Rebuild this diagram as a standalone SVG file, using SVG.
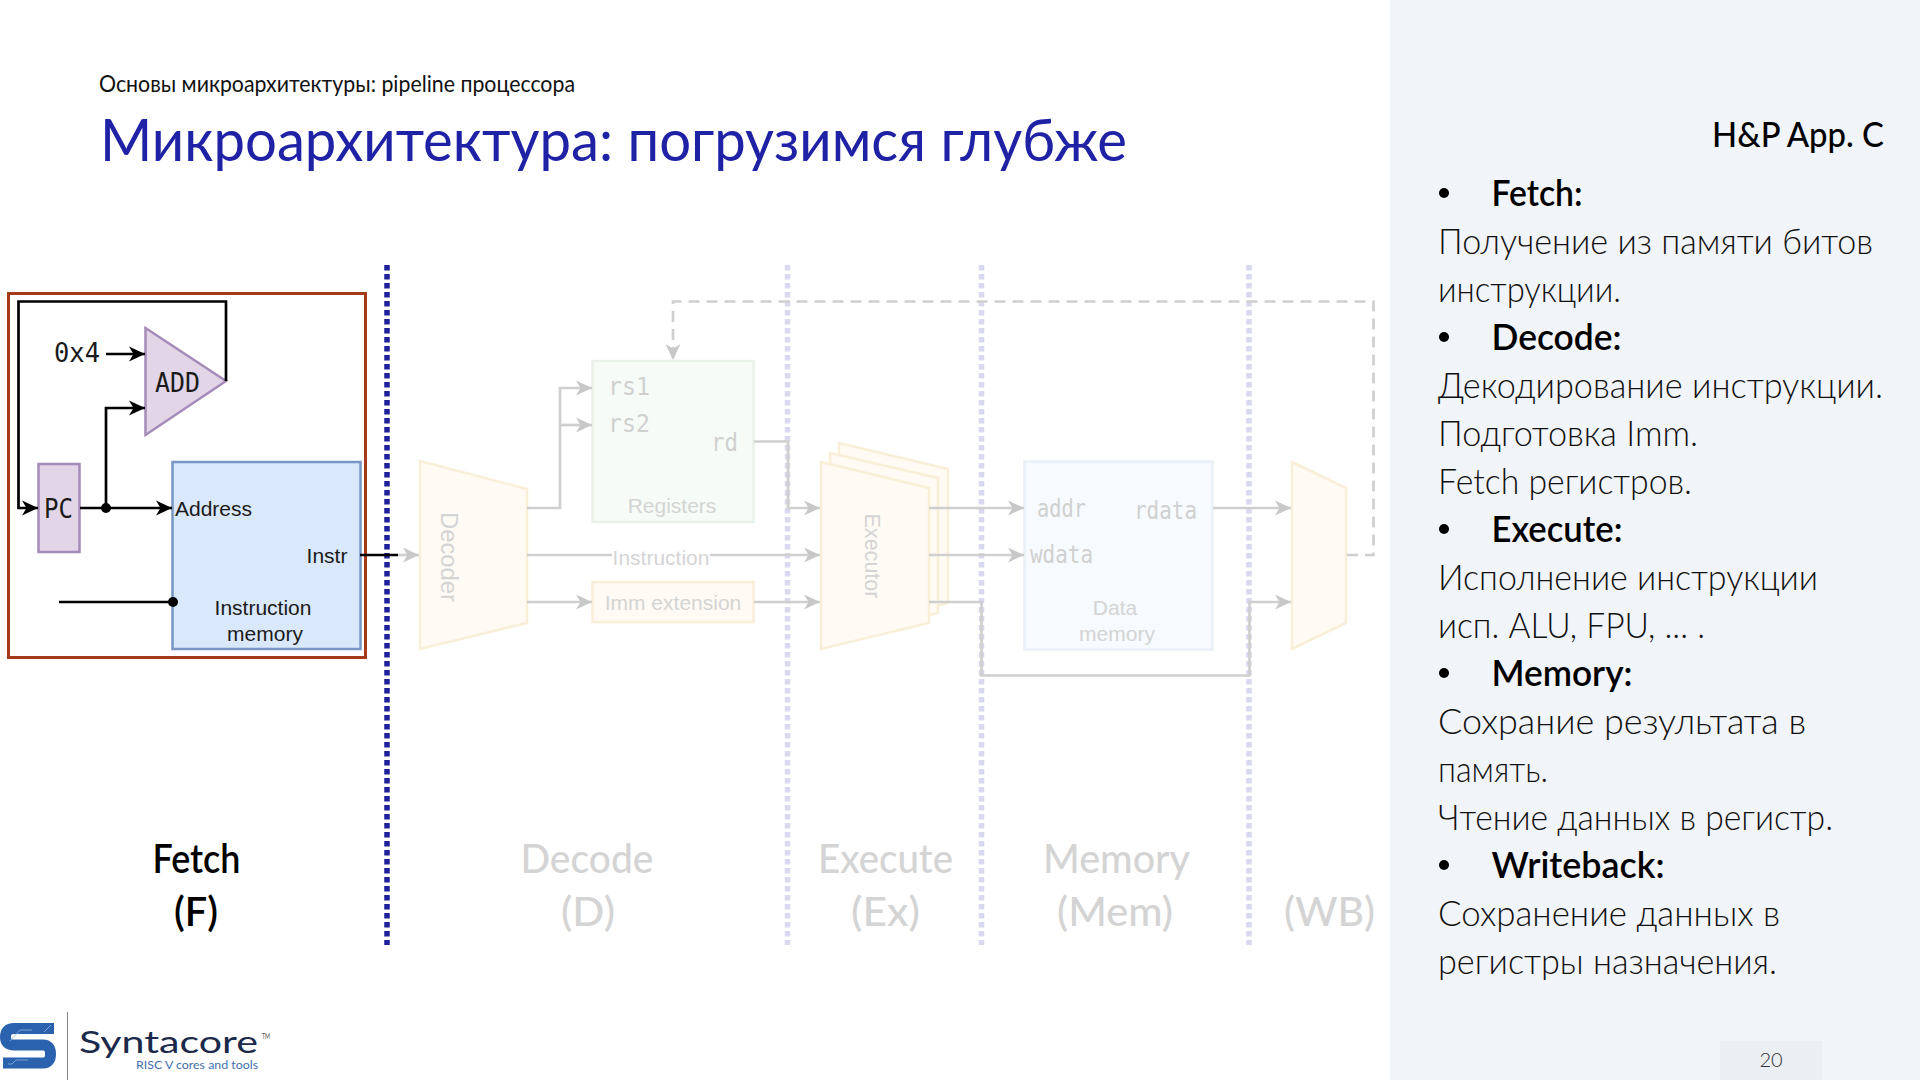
<svg xmlns="http://www.w3.org/2000/svg" width="1920" height="1080" viewBox="0 0 1920 1080">
<style>
.f{font-family:"Lato","Noto Sans",sans-serif}
.l{font-weight:300;font-size:36px;fill:#111}
.b{font-weight:600;font-size:36px;fill:#000}
.st{font-weight:500;font-size:41px;fill:#d4d4d4;text-anchor:middle}
.a{font-family:"Liberation Sans",Arial,sans-serif;font-size:21px;fill:#1a1a1a;text-anchor:middle}
.ag{font-family:"Liberation Sans",Arial,sans-serif;font-size:21px;fill:#d4d4d4;text-anchor:middle}
.m{font-family:"DejaVu Sans Mono",monospace;font-size:26px;fill:#1a1a1a}
.mg{font-family:"DejaVu Sans Mono",monospace;font-size:24px;fill:#d0d0d0}
.k{fill:none;stroke:#000;stroke-width:2.7}
.g{fill:none;stroke:#cfcfcf;stroke-width:2.7}
.ka{marker-end:url(#ak)}
.ga{marker-end:url(#ag)}
.y{fill:#fffaf3;stroke:#f9eed8;stroke-width:2.5}
.dot{fill:none;stroke-width:5.5;stroke-dasharray:5.5 3.5}
</style>
<defs>
<marker id="ak" markerUnits="userSpaceOnUse" markerWidth="17" markerHeight="18" refX="16" refY="9" orient="auto"><path d="M0,1.5 L16,9 L0,16.5 L4.5,9Z" fill="#000"/></marker>
<marker id="ag" markerUnits="userSpaceOnUse" markerWidth="17" markerHeight="18" refX="16" refY="9" orient="auto"><path d="M0,1.5 L16,9 L0,16.5 L4.5,9Z" fill="#c8c8c8"/></marker>
</defs>
<rect width="1920" height="1080" fill="#fff"/>
<rect id="panel" x="1390" y="0" width="530" height="1080" fill="#f1f4f8"/>
<rect id="page-box" x="1720" y="1041" width="102" height="39" fill="#ebeef3"/>
<text id="page" class="f" x="1771" y="1067" font-size="20" font-weight="300" fill="#333" text-anchor="middle">20</text>

<g id="heading">
<text class="f" x="99" y="92" font-size="23" fill="#111" textLength="476" lengthAdjust="spacingAndGlyphs">Основы микроархитектуры: pipeline процессора</text>
<text class="f" x="100" y="161" font-size="59" fill="#1f22a5" textLength="1027" lengthAdjust="spacingAndGlyphs">Микроархитектура: погрузимся глубже</text>
</g>

<g id="notes">
<text class="f" x="1712" y="147" font-size="34" font-weight="500" fill="#000" textLength="172" lengthAdjust="spacingAndGlyphs">H&amp;P App. C</text>
<g fill="#000"><circle cx="1444" cy="193" r="5"/><circle cx="1444" cy="337" r="5"/><circle cx="1444" cy="529" r="5"/><circle cx="1444" cy="673" r="5"/><circle cx="1444" cy="865" r="5"/></g>
<text class="f b" x="1491.5" y="206" textLength="91" lengthAdjust="spacingAndGlyphs">Fetch:</text>
<text class="f l" x="1438" y="254" textLength="435" lengthAdjust="spacingAndGlyphs">Получение из памяти битов</text>
<text class="f l" x="1438" y="302" textLength="183" lengthAdjust="spacingAndGlyphs">инструкции.</text>
<text class="f b" x="1491.5" y="350" textLength="130" lengthAdjust="spacingAndGlyphs">Decode:</text>
<text class="f l" x="1438" y="398" textLength="445" lengthAdjust="spacingAndGlyphs">Декодирование инструкции.</text>
<text class="f l" x="1438" y="446" textLength="260" lengthAdjust="spacingAndGlyphs">Подготовка Imm.</text>
<text class="f l" x="1438" y="494" textLength="254" lengthAdjust="spacingAndGlyphs">Fetch регистров.</text>
<text class="f b" x="1491.5" y="542" textLength="131" lengthAdjust="spacingAndGlyphs">Execute:</text>
<text class="f l" x="1438" y="590" textLength="380" lengthAdjust="spacingAndGlyphs">Исполнение инструкции</text>
<text class="f l" x="1438" y="638" textLength="267" lengthAdjust="spacingAndGlyphs">исп. ALU, FPU, ... .</text>
<text class="f b" x="1491.5" y="686" textLength="141" lengthAdjust="spacingAndGlyphs">Memory:</text>
<text class="f l" x="1438" y="734" textLength="368" lengthAdjust="spacingAndGlyphs">Сохрание результата в</text>
<text class="f l" x="1438" y="782" textLength="110" lengthAdjust="spacingAndGlyphs">память.</text>
<text class="f l" x="1438" y="830" textLength="395" lengthAdjust="spacingAndGlyphs">Чтение данных в регистр.</text>
<text class="f b" x="1491.5" y="878" textLength="173" lengthAdjust="spacingAndGlyphs">Writeback:</text>
<text class="f l" x="1438" y="926" textLength="342" lengthAdjust="spacingAndGlyphs">Сохранение данных в</text>
<text class="f l" x="1438" y="974" textLength="339" lengthAdjust="spacingAndGlyphs">регистры назначения.</text>
</g>

<rect id="fetch-frame" x="8.5" y="293.5" width="357" height="364" fill="none" stroke="#a5391a" stroke-width="3"/>

<g id="stage-dividers">
<line class="dot" x1="787.5" y1="265" x2="787.5" y2="945" stroke="#d8d8ee"/>
<line class="dot" x1="981.5" y1="265" x2="981.5" y2="945" stroke="#d8d8ee"/>
<line class="dot" x1="1249" y1="265" x2="1249" y2="945" stroke="#d8d8ee"/>
<line class="dot" x1="387" y1="265" x2="387" y2="945" stroke="#20209a"/>
</g>

<g id="adder"><polygon points="145.5,328 226,381 145.5,435" fill="#e1d5e7" stroke="#a58cb8" stroke-width="2.5"/><text class="m" x="155" y="392" textLength="45" lengthAdjust="spacingAndGlyphs">ADD</text></g>
<text id="const" class="m" x="54" y="362" textLength="46" lengthAdjust="spacingAndGlyphs">0x4</text>
<g id="pc"><rect x="38.5" y="464" width="41" height="88" fill="#e1d5e7" stroke="#a58cb8" stroke-width="2.5"/><text class="m" x="44" y="518" textLength="29" lengthAdjust="spacingAndGlyphs">PC</text></g>
<g id="instr-mem"><rect x="172.5" y="462" width="188" height="187" fill="#dae8fc" stroke="#7896c4" stroke-width="2.5"/>
<text class="a" x="213.5" y="516">Address</text><text class="a" x="327" y="563">Instr</text><text class="a" x="263" y="615">Instruction</text><text class="a" x="265" y="641">memory</text></g>

<g id="decoder"><polygon class="y" points="420,461 527,489 527,623 420,649"/><text class="ag" transform="translate(441,557) rotate(90)" style="font-size:23px" textLength="90" lengthAdjust="spacingAndGlyphs">Decoder</text></g>
<g id="registers"><rect x="592.5" y="361" width="161" height="161" fill="#f7fbf7" stroke="#e9f2e9" stroke-width="2.5"/>
<text class="mg" x="608" y="395" textLength="42" lengthAdjust="spacingAndGlyphs">rs1</text><text class="mg" x="608" y="432" textLength="42" lengthAdjust="spacingAndGlyphs">rs2</text><text class="mg" x="711" y="451" textLength="27" lengthAdjust="spacingAndGlyphs">rd</text><text class="ag" x="672" y="513">Registers</text></g>
<text id="instr-label" class="ag" x="661" y="565">Instruction</text>
<g id="imm"><rect x="592.5" y="582" width="161" height="40" fill="#fffaf3" stroke="#f9eed8" stroke-width="2.5"/><text class="ag" x="673" y="610">Imm extension</text></g>
<g id="executor"><polygon class="y" points="839,443 948,469 948,603 839,630"/><polygon class="y" points="830,453 938,478 938,613 830,640"/><polygon class="y" points="821,462 929,488 929,623 821,649"/><text class="ag" transform="translate(865,556) rotate(90)" style="font-size:22px" textLength="85" lengthAdjust="spacingAndGlyphs">Executor</text></g>
<g id="data-mem"><rect x="1024.5" y="461.5" width="188" height="188" fill="#f7fafe" stroke="#e9f0f9" stroke-width="2.5"/>
<text class="mg" x="1037" y="517" textLength="49" lengthAdjust="spacingAndGlyphs">addr</text><text class="mg" x="1134" y="519" textLength="63" lengthAdjust="spacingAndGlyphs">rdata</text><text class="mg" x="1030" y="563" textLength="63" lengthAdjust="spacingAndGlyphs">wdata</text><text class="ag" x="1115" y="615">Data</text><text class="ag" x="1117" y="641">memory</text></g>
<g id="mux"><polygon class="y" points="1292,462 1346,488 1346,623 1292,649"/></g>

<g id="connectors">
<path class="k ka" d="M226,381 V301.5 H18.5 V508 H38"/>
<path class="k ka" d="M106,354 H145"/>
<path class="k ka" d="M106,508 V408 H145"/>
<path class="k ka" d="M80,508 H172"/>
<path class="k" d="M59,602 H172"/>
<path class="g ga" d="M398,555 H419"/>
<path class="k" d="M360,555 H398"/>
<path class="g ga" d="M527,508 H560 V388 H592"/>
<path class="g ga" d="M560,425 H592"/>
<path class="g" d="M527,555 H612"/>
<path class="g ga" d="M710,555 H820"/>
<path class="g ga" d="M527,602 H592"/>
<path class="g ga" d="M754,602 H820"/>
<path class="g ga" d="M754,441.5 H788 V508 H820"/>
<path class="g ga" d="M929,508 H1024"/>
<path class="g ga" d="M929,555 H1024"/>
<path class="g ga" d="M929,602 H981.5 V675.5 H1249.5 V602 H1291"/>
<path class="g ga" d="M1213,508 H1291"/>
<path class="g ga" d="M1347,555 H1373.5 V301.5 H673 V360" stroke-dasharray="11 7"/>
<g fill="#000"><circle cx="106" cy="508" r="5"/><circle cx="173" cy="602" r="5"/></g>
</g>

<g id="stage-labels">
<text class="f st" x="196.5" y="873" style="fill:#000;font-weight:600" textLength="88" lengthAdjust="spacingAndGlyphs">Fetch</text>
<text class="f st" x="196" y="926" style="fill:#000;font-weight:600" textLength="44" lengthAdjust="spacingAndGlyphs">(F)</text>
<text class="f st" x="587" y="873" textLength="133" lengthAdjust="spacingAndGlyphs">Decode</text>
<text class="f st" x="588" y="926" textLength="54" lengthAdjust="spacingAndGlyphs">(D)</text>
<text class="f st" x="885.5" y="873" textLength="135" lengthAdjust="spacingAndGlyphs">Execute</text>
<text class="f st" x="885.5" y="926" textLength="69" lengthAdjust="spacingAndGlyphs">(Ex)</text>
<text class="f st" x="1116.5" y="873" textLength="147" lengthAdjust="spacingAndGlyphs">Memory</text>
<text class="f st" x="1115" y="926" textLength="116" lengthAdjust="spacingAndGlyphs">(Mem)</text>
<text class="f st" x="1329.5" y="926" textLength="91" lengthAdjust="spacingAndGlyphs">(WB)</text>
</g>

<g id="logo">
<path d="M54,1028.5 H14 Q5.5,1028.5 5.5,1037 Q5.5,1045 14,1045 H43 Q50.5,1045 50.5,1054 Q50.5,1063 43,1063 H3" fill="none" stroke="#2a62ae" stroke-width="11"/>
<path d="M10,1041 L20,1030 H32 M8,1064 H12 L16,1060 H28 M44,1032 L51,1025" fill="none" stroke="#8fb2de" stroke-width="0.8"/>
<line x1="67.5" y1="1012" x2="67.5" y2="1080" stroke="#888" stroke-width="1"/>
<text class="f" x="79" y="1053" font-size="30" fill="#1b2a4a" textLength="179" lengthAdjust="spacingAndGlyphs">Syntacore</text>
<text class="f" x="262" y="1039" font-size="7" fill="#555" textLength="8" lengthAdjust="spacingAndGlyphs">TM</text>
<text class="f" x="136" y="1069" font-size="12" fill="#3f6fae" textLength="122" lengthAdjust="spacingAndGlyphs">RISC V cores and tools</text>
</g>
</svg>
